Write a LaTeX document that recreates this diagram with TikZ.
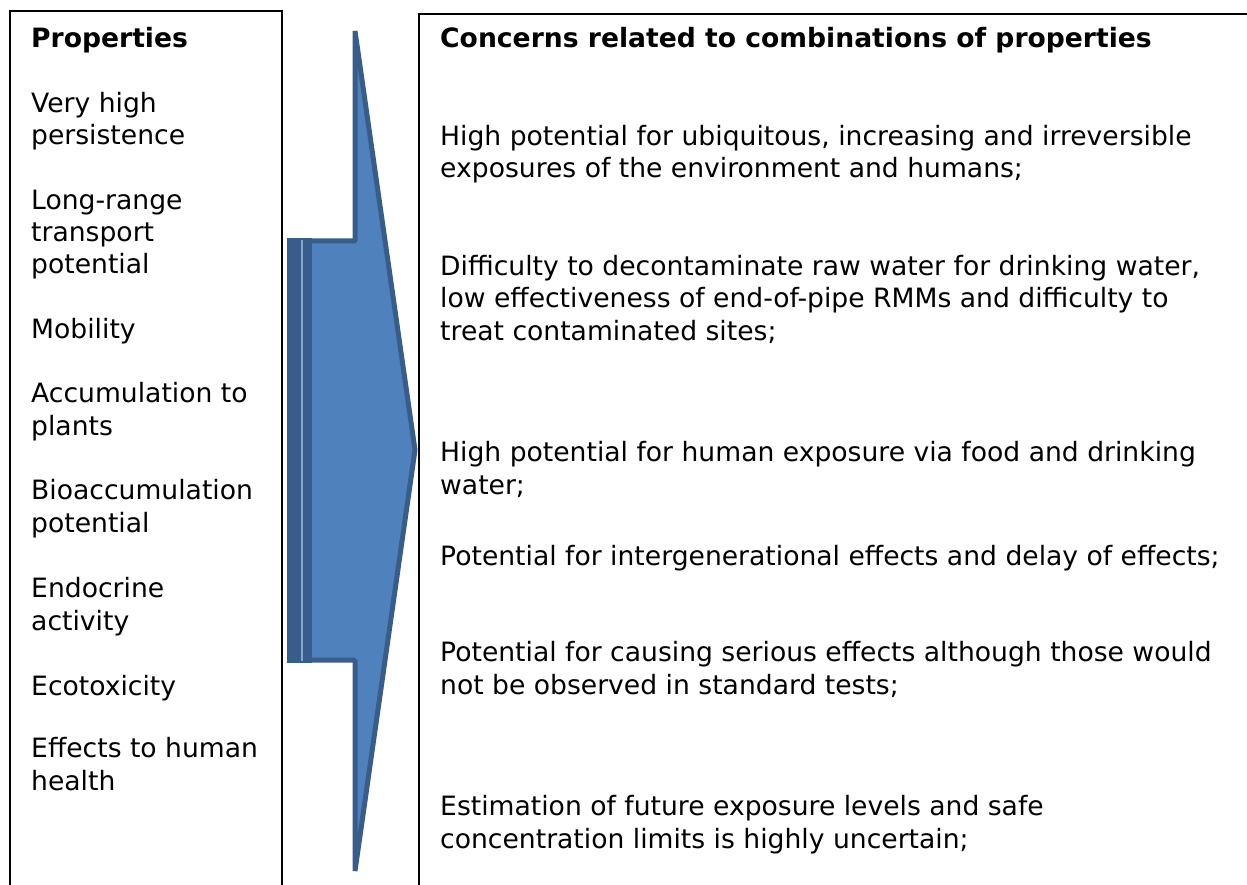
\documentclass[tikz,border=0pt]{standalone}
\usepackage{fontspec}
\setmainfont{DejaVu Sans}
\usepackage{tikz}

\definecolor{arrowfill}{HTML}{4F81BD}
\definecolor{arrowline}{HTML}{385D8A}

\begin{document}
\begin{tikzpicture}[x=1pt, y=-1pt,
  item/.style={anchor=base west, inner sep=0pt, align=left, font=\fontsize{26.6}{32.35}\selectfont},
  head/.style={item, font=\fontsize{26.6}{32.35}\selectfont\bfseries}]

\useasboundingbox (0,0) rectangle (1247,885);

% the two boxes, cut at the page edges
\draw[line width=2pt] (10,885) -- (10,11) -- (282,11) -- (282,885);
\draw[line width=2.4pt] (419,885) -- (419,14) -- (1260,14);

% big arrow
\coordinate (shafttl) at (290,241);
\coordinate (shaftbl) at (290,660);
\coordinate (headtop) at (355,31);
\coordinate (headbot) at (355,871);
\coordinate (tip) at (415,450);
\draw[fill=arrowfill, draw=arrowline, line width=5pt, line join=bevel]
  (shafttl) -- (355,241) -- (headtop) -- (tip) -- (headbot) -- (355,660) -- (shaftbl) -- cycle;
\fill[arrowline] (287,238) rectangle (312,663);
\draw[arrowfill!70!white, line width=1.2pt] (302,240) -- (302,661);

% left column (node base = baseline of last line)
\node[head] (props) at (31,48) {Properties};
\node[item] (persist) at (31,145) {Very high\\persistence};
\node[item] (lrtp) at (31,274) {Long-range\\transport\\potential};
\node[item] (mob) at (31,338) {Mobility};
\node[item] (plants) at (31,435) {Accumulation to\\plants};
\node[item] (bioacc) at (31,532) {Bioaccumulation\\potential};
\node[item] (endo) at (31,630) {Endocrine\\activity};
\node[item] (ecotox) at (31,695) {Ecotoxicity};
\node[item] (human) at (31,790) {Effects to human\\health};

% right column
\node[head] (concerns) at (440,48) {Concerns related to combinations of properties};
\node[item] (ubiq) at (440,178) {High potential for ubiquitous, increasing and irreversible\\exposures of the environment and humans;};
\node[item] (decont) at (440,340) {Difficulty to decontaminate raw water for drinking water,\\low effectiveness of end-of-pipe RMMs and difficulty to\\treat contaminated sites;};
\node[item] (food) at (440,494) {High potential for human exposure via food and drinking\\water;};
\node[item] (intergen) at (440,565) {Potential for intergenerational effects and delay of effects;};
\node[item] (serious) at (440,694) {Potential for causing serious effects although those would\\not be observed in standard tests;};
\node[item] (future) at (440,848) {Estimation of future exposure levels and safe\\concentration limits is highly uncertain;};
\end{tikzpicture}
\end{document}
